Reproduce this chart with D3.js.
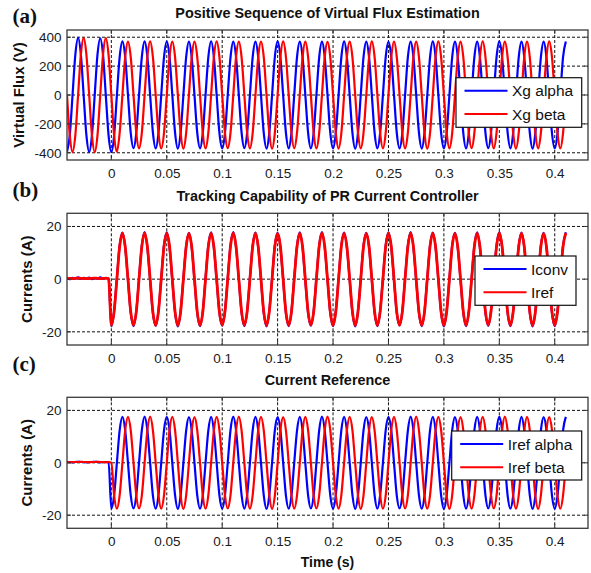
<!DOCTYPE html>
<html>
<head>
<meta charset="utf-8">
<script src="https://cdn.jsdelivr.net/npm/d3@7"></script>
<style>
  body { margin: 0; background: #fff; }
  svg { display: block; font-family: Arial, "Liberation Sans", sans-serif; }
</style>
</head>
<body>
<svg id="chart" width="591" height="573"></svg>
<script>
// Recorded signals, sampled every 2.5 ms starting at t = -0.04 s
const t0 = -0.04;
const dt = 0.0025;

// (a) virtual flux, alpha and beta (V)
const xgAlpha = [
  -392, -279, -2, 277, 395, 281, 1, -278,
  -395, -280, 0, 279, 393, 278, -1, -279,
  -396, -281, -3, 262, 371, 262, 1, -263,
  -368, -262, 1, 262, 371, 263, 0, -261,
  -370, -263, -1, 261, 369, 262, 1, -262,
  -371, -261, 0, 263, 370, 261, -1, -263,
  -369, -262, 2, 262, 372, 262, 0, -262,
  -370, -264, 0, 260, 369, 263, 1, -261,
  -368, -262, -1, 262, 370, 262, 0, -263,
  -371, -262, 0, 263, 371, 261, -2, -262,
  -370, -261, 1, 262, 369, 262, 0, -262,
  -369, -263, 0, 261, 370, 263, 1, -261,
  -370, -262, -1, 262, 371, 262, 0, -263,
  -372, -262, 0, 263, 370, 261, -1, -262,
  -369, -261, 1, 262, 368, 262, 0, -262,
  -370, -263, 0, 262, 370, 263, 2, -261,
  -371, -262, -2, 261, 371, 262, 0, -262,
  -369, -262, 0, 263, 369, 261, -1, -263,
  -370, -261, 1, 262, 370, 262, 0, -262,
  -368, -263, 0, 262, 372, 263, 1, -261,
  -370, -262, -1, 261, 370, 262, 0, -262,
  -371, -262, 0, 262, 369, 261, -1, -263,
  -370, -262, 0, 262, 370
];
const xgBeta = [
  0, -279, -394, -280, -1, 278, 395, 279,
  2, -278, -395, -279, 0, 280, 394, 278,
  -1, -280, -393, -263, 0, 262, 370, 262,
  1, -262, -369, -262, 0, 263, 371, 262,
  0, -261, -370, -263, -1, 262, 369, 261,
  -1, -262, -371, -262, 0, 261, 370, 263,
  0, -263, -370, -261, 1, 262, 372, 262,
  2, -262, -368, -262, 0, 263, 370, 261,
  0, -261, -370, -263, -1, 262, 369, 262,
  -1, -262, -372, -262, 0, 262, 371, 263,
  0, -263, -369, -261, 1, 261, 370, 262,
  1, -262, -370, -262, 0, 262, 368, 262,
  0, -262, -371, -263, -2, 263, 370, 261,
  -1, -261, -370, -262, 0, 262, 371, 262,
  0, -263, -369, -262, 1, 261, 370, 263,
  2, -262, -370, -261, 0, 262, 369, 262,
  0, -262, -372, -263, -1, 263, 371, 261,
  -1, -261, -370, -262, 0, 262, 370, 262,
  0, -263, -368, -262, 1, 261, 372, 263,
  1, -262, -370, -261, 0, 262, 369, 262,
  0, -262, -371, -263, -1, 263, 370, 261,
  -1, -261, -369, -262, 0, 262, 371, 262,
  1, -262, -370, -262, 0
];

// (b)/(c) current reference alpha = Iref (A)
const irefAlpha = [
  0.3, 0.3, 0.2, 0.3, 0.4, 0.3, 0.3, 0.2,
  0.3, 0.3, 0.4, 0.3, 0.2, 0.3, 0.3, 0.3,
  -17.5, -12.4, 0, 12.4, 17.5, 12.4, 0, -12.4,
  -17.4, -12.4, 0.1, 12.4, 17.6, 12.4, 0, -12.5,
  -17.5, -12.3, 0, 12.4, 17.5, 12.5, -0.1, -12.4,
  -17.6, -12.4, 0, 12.3, 17.4, 12.4, 0, -12.4,
  -17.5, -12.5, 0.1, 12.4, 17.5, 12.3, 0, -12.4,
  -17.4, -12.4, 0, 12.5, 17.6, 12.4, 0.1, -12.3,
  -17.5, -12.4, -0.1, 12.4, 17.5, 12.4, 0, -12.4,
  -17.6, -12.3, 0, 12.4, 17.4, 12.5, 0, -12.5,
  -17.5, -12.4, 0.1, 12.3, 17.5, 12.4, -0.1, -12.4,
  -17.4, -12.5, 0, 12.4, 17.6, 12.4, 0, -12.4,
  -17.5, -12.4, 0, 12.5, 17.5, 12.3, 0.1, -12.3,
  -17.6, -12.4, -0.1, 12.4, 17.4, 12.4, 0, -12.4,
  -17.5, -12.3, 0, 12.4, 17.5, 12.5, 0, -12.5,
  -17.4, -12.4, 0.1, 12.3, 17.6, 12.4, -0.1, -12.4,
  -17.5, -12.5, 0, 12.4, 17.5, 12.4, 0, -12.4,
  -17.6, -12.4, 0, 12.5, 17.4, 12.3, 0.1, -12.3,
  -17.5, -12.4, -0.1, 12.4, 17.5, 12.4, 0, -12.4,
  -17.4, -12.3, 0, 12.4, 17.6, 12.5, 0, -12.5,
  -17.5, -12.4, 0.1, 12.3, 17.5, 12.4, -0.1, -12.4,
  -17.6, -12.5, 0, 12.4, 17.4, 12.4, 0, -12.4,
  -17.5, -12.4, 0, 12.4, 17.5
];
// (c) current reference beta (A)
const irefBeta = [
  0.3, 0.2, 0.3, 0.3, 0.3, 0.4, 0.3, 0.3,
  0.2, 0.3, 0.3, 0.4, 0.3, 0.3, 0.2, 0.3,
  0, -12.4, -17.5, -12.4, 0, 12.4, 17.5, 12.4,
  0.1, -12.4, -17.4, -12.5, 0, 12.4, 17.6, 12.4,
  0, -12.3, -17.5, -12.4, -0.1, 12.5, 17.5, 12.4,
  0, -12.4, -17.6, -12.4, 0, 12.3, 17.4, 12.4,
  0.1, -12.5, -17.5, -12.3, 0, 12.4, 17.5, 12.5,
  0, -12.4, -17.4, -12.4, 0.1, 12.4, 17.6, 12.3,
  -0.1, -12.4, -17.5, -12.4, 0, 12.5, 17.5, 12.4,
  0, -12.3, -17.6, -12.5, 0, 12.4, 17.4, 12.4,
  0.1, -12.4, -17.5, -12.4, -0.1, 12.3, 17.5, 12.4,
  0, -12.5, -17.4, -12.4, 0, 12.4, 17.6, 12.5,
  0, -12.4, -17.5, -12.3, 0.1, 12.4, 17.5, 12.4,
  -0.1, -12.4, -17.6, -12.4, 0, 12.5, 17.4, 12.3,
  0, -12.3, -17.5, -12.5, 0, 12.4, 17.5, 12.4,
  0.1, -12.4, -17.4, -12.4, -0.1, 12.3, 17.6, 12.4,
  0, -12.5, -17.5, -12.4, 0, 12.4, 17.5, 12.5,
  0, -12.4, -17.6, -12.3, 0.1, 12.4, 17.4, 12.4,
  -0.1, -12.4, -17.5, -12.4, 0, 12.5, 17.5, 12.4,
  0, -12.3, -17.4, -12.5, 0, 12.4, 17.6, 12.3,
  0.1, -12.4, -17.5, -12.4, -0.1, 12.3, 17.5, 12.4,
  0, -12.5, -17.6, -12.4, 0, 12.4, 17.4, 12.5,
  0, -12.4, -17.5, -12.4, 0
];
// (b) measured converter current (A)
const iconv = [
  0.6, 0.0, 0.5, 0.2, 0.7, 0.1, 0.5, 0.3,
  0.6, 0.0, 0.4, 0.2, 0.7, 0.1, 0.5, 0.2,
  -17.9, -12.0, 0.4, 12.8, 17.7, 12.1, -0.3, -12.8,
  -17.8, -12.1, 0.4, 12.7, 17.9, 12.0, -0.4, -12.9,
  -17.7, -12.0, 0.3, 12.8, 17.8, 12.2, -0.4, -12.8,
  -17.9, -12.1, 0.4, 12.6, 17.6, 12.0, -0.3, -12.8,
  -17.8, -12.2, 0.5, 12.8, 17.8, 12.0, -0.4, -12.8,
  -17.6, -12.0, 0.4, 12.9, 17.9, 12.1, -0.2, -12.7,
  -17.8, -12.1, 0.3, 12.8, 17.7, 12.0, -0.4, -12.8,
  -17.9, -12.0, 0.4, 12.8, 17.6, 12.2, -0.3, -12.9,
  -17.8, -12.1, 0.5, 12.7, 17.8, 12.0, -0.5, -12.8,
  -17.7, -12.2, 0.4, 12.8, 17.9, 12.1, -0.3, -12.8,
  -17.8, -12.0, 0.3, 12.9, 17.7, 12.0, -0.2, -12.7,
  -17.9, -12.1, 0.3, 12.8, 17.6, 12.1, -0.4, -12.8,
  -17.8, -12.0, 0.4, 12.8, 17.8, 12.2, -0.3, -12.9,
  -17.6, -12.1, 0.5, 12.7, 17.9, 12.0, -0.5, -12.8,
  -17.8, -12.2, 0.4, 12.8, 17.7, 12.1, -0.3, -12.8,
  -17.9, -12.0, 0.3, 12.9, 17.6, 12.0, -0.2, -12.7,
  -17.8, -12.1, 0.3, 12.8, 17.8, 12.1, -0.4, -12.8,
  -17.7, -12.0, 0.4, 12.8, 17.9, 12.2, -0.3, -12.9,
  -17.8, -12.1, 0.5, 12.7, 17.7, 12.0, -0.5, -12.8,
  -17.9, -12.2, 0.4, 12.8, 17.6, 12.1, -0.3, -12.8,
  -17.8, -12.0, 0.4, 12.8, 17.8
];

const xTicks = [0, 0.05, 0.1, 0.15, 0.2, 0.25, 0.3, 0.35, 0.4];
const fluxTicks = [-400, -200, 0, 200, 400];
const currentTicks = [-20, 0, 20];

const blue = "#0000ff";
const red = "#ff0000";

// panel layout
const left = 67, right = 588;
const panels = [
  {
    tag: "(a)", tagY: 23,
    title: "Positive Sequence of Virtual Flux Estimation", titleY: 17.5,
    ylabel: "Virtual Flux (V)", ylabelX: 19,
    top: 30, bottom: 160, ydomain: [-450, 450], yticks: fluxTicks,
    series: [
      { name: "Xg alpha", values: xgAlpha, color: blue, width: 2.2 },
      { name: "Xg beta", values: xgBeta, color: red, width: 2.2 }
    ],
    legend: { x: 456, y: 77.7, w: 125.7, h: 49.6 }
  },
  {
    tag: "(b)", tagY: 196.5,
    title: "Tracking Capability of PR Current Controller", titleY: 200.5,
    ylabel: "Currents (A)", ylabelX: 27,
    top: 213.3, bottom: 345, ydomain: [-25, 25], yticks: currentTicks,
    series: [
      { name: "Iconv", values: iconv, color: blue, width: 2.2 },
      { name: "Iref", values: irefAlpha, color: red, width: 2.8 }
    ],
    legend: { x: 475, y: 256, w: 101, h: 49.3 }
  },
  {
    tag: "(c)", tagY: 371,
    title: "Current Reference", titleY: 385,
    ylabel: "Currents (A)", ylabelX: 27,
    top: 397.3, bottom: 528.3, ydomain: [-25, 25], yticks: currentTicks,
    series: [
      { name: "Iref alpha", values: irefAlpha, color: blue, width: 2.2 },
      { name: "Iref beta", values: irefBeta, color: red, width: 2.2 }
    ],
    legend: { x: 451.7, y: 431, w: 130, h: 49 }
  }
];

const svg = d3.select("#chart");
const x = d3.scaleLinear().domain([-0.04, 0.43]).range([left, right]);

panels.forEach((p, i) => {
  const y = d3.scaleLinear().domain(p.ydomain).range([p.bottom, p.top]);
  const g = svg.append("g");

  // clip for the traces
  const clipId = "clip" + i;
  svg.append("clipPath").attr("id", clipId)
    .append("rect")
    .attr("x", left).attr("y", p.top)
    .attr("width", right - left).attr("height", p.bottom - p.top);

  // dotted grid
  const grid = g.append("g")
    .attr("stroke", "#111")
    .attr("stroke-width", 1)
    .attr("stroke-dasharray", "3,2");
  grid.selectAll("line.vx").data(xTicks).join("line")
    .attr("x1", d => x(d)).attr("x2", d => x(d))
    .attr("y1", p.top).attr("y2", p.bottom);
  grid.selectAll("line.hy").data(p.yticks).join("line")
    .attr("class", "hy")
    .attr("x1", left).attr("x2", right)
    .attr("y1", d => y(d)).attr("y2", d => y(d));

  // traces
  const line = d3.line()
    .x((d, k) => x(t0 + k * dt))
    .y(d => y(d))
    .curve(d3.curveMonotoneX);
  g.append("g").attr("clip-path", `url(#${clipId})`)
    .selectAll("path").data(p.series).join("path")
    .attr("d", d => line(d.values))
    .attr("fill", "none")
    .attr("stroke", d => d.color)
    .attr("stroke-width", d => d.width)
    .attr("stroke-linejoin", "round");

  // inward tick marks
  const tk = g.append("g").attr("stroke", "#333").attr("stroke-width", 1);
  xTicks.forEach(d => {
    tk.append("line").attr("x1", x(d)).attr("x2", x(d)).attr("y1", p.bottom).attr("y2", p.bottom - 4);
    tk.append("line").attr("x1", x(d)).attr("x2", x(d)).attr("y1", p.top).attr("y2", p.top + 4);
  });
  p.yticks.forEach(d => {
    tk.append("line").attr("x1", left).attr("x2", left + 4).attr("y1", y(d)).attr("y2", y(d));
    tk.append("line").attr("x1", right).attr("x2", right - 4).attr("y1", y(d)).attr("y2", y(d));
  });

  // box
  g.append("rect")
    .attr("x", left).attr("y", p.top)
    .attr("width", right - left).attr("height", p.bottom - p.top)
    .attr("fill", "none").attr("stroke", "#3a3a3a").attr("stroke-width", 1.3);

  // tick labels via d3 axes
  const xa = g.append("g")
    .attr("transform", `translate(0,${p.bottom})`)
    .call(d3.axisBottom(x).tickValues(xTicks).tickSize(0).tickPadding(8.5)
      .tickFormat(d => String(d)));
  const ya = g.append("g")
    .attr("transform", `translate(${left},0)`)
    .call(d3.axisLeft(y).tickValues(p.yticks).tickSize(0).tickPadding(5.5)
      .tickFormat(d => String(d)));
  [xa, ya].forEach(a => {
    a.select(".domain").remove();
    a.selectAll("text")
      .attr("font-family", "Arial, 'Liberation Sans', sans-serif")
      .attr("font-size", 13.5)
      .attr("fill", "#1a1a1a");
  });

  // title
  g.append("text")
    .attr("x", (left + right) / 2).attr("y", p.titleY)
    .attr("text-anchor", "middle")
    .attr("font-size", 14.4).attr("font-weight", "bold")
    .attr("fill", "#111")
    .text(p.title);

  // y label
  g.append("text")
    .attr("transform", `translate(${p.ylabelX},${(p.top + p.bottom) / 2}) rotate(-90)`)
    .attr("text-anchor", "middle").attr("dy", "0.35em")
    .attr("font-size", 15).attr("font-weight", "bold")
    .attr("fill", "#111")
    .text(p.ylabel);

  // panel tag
  g.append("text")
    .attr("x", 12.5).attr("y", p.tagY)
    .attr("font-family", "'Liberation Serif', 'Times New Roman', serif")
    .attr("font-size", 21).attr("font-weight", "bold")
    .attr("fill", "#111")
    .text(p.tag);

  // legend
  const L = p.legend;
  const lg = g.append("g").attr("transform", `translate(${L.x},${L.y})`);
  lg.append("rect")
    .attr("width", L.w).attr("height", L.h)
    .attr("fill", "#fff").attr("stroke", "#111").attr("stroke-width", 1.2);
  p.series.forEach((s, j) => {
    const ry = 13 + j * 23.3;
    lg.append("line")
      .attr("x1", 8.5).attr("x2", 51.5).attr("y1", ry).attr("y2", ry)
      .attr("stroke", s.color).attr("stroke-width", 2);
    lg.append("text")
      .attr("x", 56).attr("y", ry).attr("dy", "0.36em")
      .attr("font-size", 15.5).attr("fill", "#111")
      .text(s.name);
  });
});

// x label under the last panel
svg.append("text")
  .attr("x", (left + right) / 2).attr("y", 566.5)
  .attr("text-anchor", "middle")
  .attr("font-size", 14).attr("font-weight", "bold")
  .attr("fill", "#111")
  .text("Time (s)");
</script>
</body>
</html>
